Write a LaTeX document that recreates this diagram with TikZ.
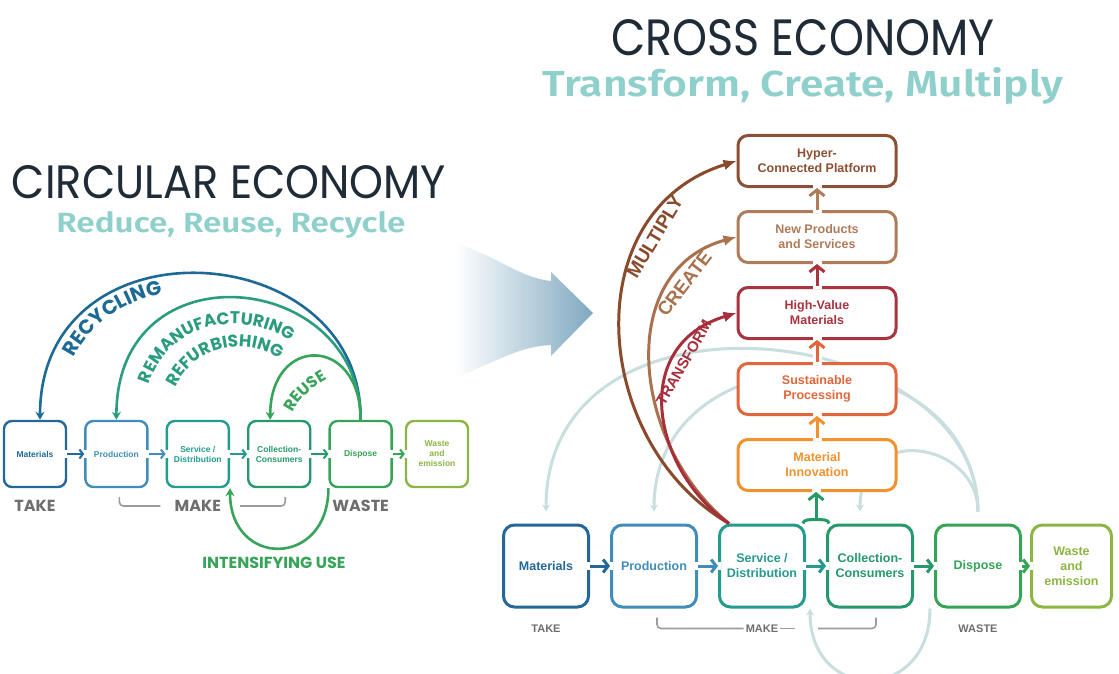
\documentclass[tikz,border=0pt]{standalone}
\usepackage{fontspec}
\usepackage{graphicx}
\setmainfont{Liberation Sans}
\newfontfamily\geofont{Poppins}
\newfontfamily\humfont{Fira Sans SemiBold}
\usetikzlibrary{
  arrows.meta,
  backgrounds,
  calc,
  decorations.text,
  positioning
}
\definecolor{ink}{HTML}{1F2B36}
\definecolor{mint}{HTML}{8FD0CC}
\definecolor{taupe}{HTML}{6E6E6E}
\definecolor{greyline}{HTML}{9C9C9C}
\definecolor{hazy}{HTML}{C9DEDF}
\definecolor{steel}{HTML}{7FA8C0}
\definecolor{cmat}{HTML}{24689A}
\definecolor{cprod}{HTML}{3F8DB8}
\definecolor{cserv}{HTML}{239B8E}
\definecolor{ccoll}{HTML}{25996A}
\definecolor{cdisp}{HTML}{35A457}
\definecolor{cwaste}{HTML}{8DB544}
\definecolor{crecyc}{HTML}{1D6A96}
\definecolor{creman}{HTML}{2A9C80}
\definecolor{creuse}{HTML}{38A45A}
\definecolor{chyper}{HTML}{8D5035}
\definecolor{cnewp}{HTML}{B07B58}
\definecolor{chval}{HTML}{A7343F}
\definecolor{csust}{HTML}{E1663C}
\definecolor{cinno}{HTML}{F0922E}
\definecolor{cmult}{HTML}{8A4A2C}
\definecolor{ccreate}{HTML}{A9714D}
\definecolor{ctrans}{HTML}{A82E3C}
\newcommand{\arcbig}{\geofont\bfseries\fontsize{20}{20}\selectfont}
\newcommand{\arcmid}{\geofont\bfseries\fontsize{17}{17}\selectfont}
\newcommand{\arcsmall}{\geofont\bfseries\fontsize{16}{16}\selectfont}
\tikzset{
  heading/.style={
    inner sep=0pt,
    text=ink,
    font=\geofont
  },
  motto/.style={
    inner sep=0pt,
    text=mint,
    font=\humfont
  },
  stage/.style={
    draw=#1,
    text=#1,
    fill=white,
    line width=2.4pt,
    rounded corners=8pt,
    minimum width=62pt,
    minimum height=66pt,
    inner sep=1pt,
    align=center,
    font=\fontsize{8.5}{10}\selectfont\bfseries
  },
  bigstage/.style={
    draw=#1,
    text=#1,
    fill=white,
    line width=3pt,
    rounded corners=11pt,
    minimum width=85pt,
    minimum height=82pt,
    inner sep=1pt,
    align=center,
    font=\fontsize{12.5}{15}\selectfont\bfseries
  },
  level/.style={
    draw=#1,
    text=#1,
    fill=white,
    line width=3pt,
    rounded corners=10pt,
    minimum width=158pt,
    minimum height=51pt,
    align=center,
    font=\fontsize{12.5}{15}\selectfont\bfseries
  },
  hop/.style={
    draw=#1,
    line width=2pt,
    -{Straight Barb[length=3.5pt, width=9pt]},
    preaction={draw=white, -, line width=8pt,
      shorten <=-3pt, shorten >=-3pt}
  },
  bighop/.style={
    hop=#1,
    line width=3pt,
    -{Straight Barb[length=5pt, width=13pt]}
  },
  lift/.style={
    draw=#1,
    line width=3pt,
    -{Straight Barb[length=6pt, width=15pt]},
    preaction={draw=white, -, line width=9pt,
      shorten <=-3pt, shorten >=-3pt}
  },
  fork/.style={
    draw=#1,
    line width=3pt
  },
  rise/.style={
    draw=#1,
    line width=3pt,
    -{Latex[length=13pt, width=11pt]}
  },
  backflow/.style={
    draw=#1,
    line width=2.6pt,
    -{Stealth[length=8pt, width=9pt]}
  },
  haze/.style={
    draw=hazy,
    line width=3pt,
    -{Stealth[length=7pt, width=8pt]}
  },
  phase/.style={
    text=taupe,
    inner sep=2pt,
    font=\geofont\bfseries\fontsize{16}{16}\selectfont
  },
  tag/.style={
    text=taupe,
    inner sep=2pt,
    font=\fontsize{11}{11}\selectfont\bfseries
  },
  brace/.style={
    draw=greyline,
    line width=1.6pt,
    rounded corners=4pt
  },
  upcap/.style={
    text=#1,
    inner sep=1pt,
    font=\fontsize{19}{19}\selectfont\bfseries
  }
}

\begin{document}
\begin{tikzpicture}[x=1pt, y=-1pt, node distance=17pt]
  \useasboundingbox (0,0) rectangle (1119,674);

  % headings
  \node[heading] (circ) at (229,182) {\resizebox{434pt}{33pt}{CIRCULAR ECONOMY}};
  \node[motto, anchor=base] (circsub) at (231,232)
    {\resizebox{349pt}{21pt}{Reduce, Reuse, Recycle}};
  \node[heading] (cross) at (803,38) {\resizebox{383pt}{36pt}{CROSS ECONOMY}};
  \node[motto, anchor=base] (crosssub) at (803,97)
    {\resizebox{520pt}{29pt}{Transform, Create, Multiply}};

  % circular chain
  \node[stage=cmat] (mat) at (35,454) {Materials};
  \node[stage=cprod, right=of mat] (prod) {Production};
  \node[stage=cserv, right=of prod] (serv) {Service /\\Distribution};
  \node[stage=ccoll, right=of serv] (coll) {Collection-\\Consumers};
  \node[stage=cdisp, right=of coll] (disp) {Dispose};
  \node[stage=cwaste, right=12pt of disp] (waste) {Waste\\and\\emission};

  \node[phase, below=10pt of mat] (take) {TAKE};
  \node[phase, below=10pt of serv] (make) {MAKE};
  \node[phase, below=10pt of disp] (wastel) {WASTE};
  \node[text=creuse, font=\geofont\bfseries\fontsize{16}{16}\selectfont]
    (intens) at (274,563) {INTENSIFYING USE};

  % cross chain
  \node[bigstage=cmat] (rmat) at (546,566) {Materials};
  \node[bigstage=cprod, right=20pt of rmat] (rprod) {Production};
  \node[bigstage=cserv, right=20pt of rprod] (rserv) {Service /\\Distribution};
  \node[bigstage=ccoll, right=20pt of rserv] (rcoll) {Collection-\\Consumers};
  \node[bigstage=cdisp, right=20pt of rcoll] (rdisp) {Dispose};
  \node[bigstage=cwaste, right=8pt of rdisp, minimum width=80pt] (rwaste)
    {Waste\\and\\emission};

  \node[tag, below=14pt of rmat] (rtake) {TAKE};
  \node[tag, below=14pt of rserv] (rmake) {MAKE};
  \node[tag, below=14pt of rdisp] (rwastel) {WASTE};

  % value ladder
  \node[level=cinno] (inno) at (817,465) {Material\\Innovation};
  \node[level=csust, above=22pt of inno] (sust) {Sustainable\\Processing};
  \node[level=chval, above=22pt of sust] (hval) {High-Value\\Materials};
  \node[level=cnewp, above=22pt of hval] (newp) {New Products\\and Services};
  \node[level=chyper, above=22pt of newp] (hyper) {Hyper-\\Connected Platform};

  \begin{scope}[on background layer]
    \fill[white] (0,0) rectangle (1119,674);
    \shade[left color=white, right color=steel]
      (455,243) .. controls (495,255) and (520,278) .. (551,281)
      -- (551,272) -- (593,313) -- (551,356) -- (551,345)
      .. controls (520,346) and (495,362) .. (455,378) -- cycle;
    % old loops, faded behind the ladder
    \coordinate (drop) at ([yshift=12pt]rdisp.north);
    \draw[haze] (drop) .. controls +(0,-191) and +(0,-241) .. ([yshift=12pt]rmat.north);
    \draw[haze] (drop) .. controls +(-5,-185) and +(0,-185) .. ([yshift=12pt]rprod.north);
    \draw[haze] (drop) .. controls +(0,-70) and +(0,-90)
      .. ([yshift=12pt, xshift=-10pt]rcoll.north);
    \draw[haze] ([xshift=-4pt]rdisp.south west) .. controls +(0,95) and +(0,95)
      .. ([xshift=4pt]rserv.south east);
  \end{scope}

  \foreach \a/\b/\c in {mat/prod/cmat, prod/serv/cprod, serv/coll/cserv,
                        coll/disp/ccoll, disp/waste/cdisp}
    \draw[hop=\c] (\a) -- (\b);
  \foreach \a/\b/\c in {rmat/rprod/cmat, rprod/rserv/cprod, rserv/rcoll/cserv,
                        rcoll/rdisp/ccoll, rdisp/rwaste/cdisp}
    \draw[bighop=\c] (\a) -- (\b);
  \foreach \a/\b/\c in {inno/sust/cinno, sust/hval/csust,
                        hval/newp/chval, newp/hyper/cnewp}
    \draw[lift=\c] (\a) -- (\b);

  \coordinate (fork) at ($(rserv.north east)!.5!(rcoll.north west)+(0,-4)$);
  \draw[lift=ccoll] (fork) -- (fork |- inno.south);
  \draw[fork=ccoll] ([xshift=-13pt, yshift=-4pt]fork) .. controls +(0,-4) and +(-6,0)
    .. (fork) .. controls +(6,0) and +(0,-4) .. ([xshift=13pt, yshift=-4pt]fork);

  % loops of the circular economy
  \draw[backflow=crecyc] (disp.north) .. controls +(2,-185) and +(0,-205)
    .. ([xshift=5pt]mat.north);
  \draw[backflow=creman] (disp.north) .. controls +(0,-150) and +(0,-175)
    .. (prod.north);
  \draw[backflow=creuse] (disp.north) .. controls +(0,-85) and +(0,-85)
    .. ([xshift=-9pt]coll.north);
  \draw[backflow=creuse] (disp.south west) .. controls +(0,80) and +(0,80)
    .. (serv.south east);

  \path[decorate, decoration={text along path, text color=crecyc,
      text align={left indent=64pt}, text={|\arcbig|RECYCLING}}]
    ([xshift=25pt]mat.north) .. controls +(0,-180) and +(0,-165)
    .. ([xshift=-20pt]disp.north);
  \path[decorate, decoration={text along path, text color=creman,
      text align={left indent=36pt}, text={|\arcmid|REMANUFACTURING}}]
    ([xshift=27pt]prod.north) .. controls +(4,-140) and +(0,-115)
    .. ([xshift=-27pt]disp.north);
  \path[decorate, decoration={text along path, text color=creman,
      text align={left indent=34pt}, text={|\arcmid|REFURBISHING}}]
    ([xshift=50pt]prod.north) .. controls +(12,-105) and +(0,-90)
    .. ([xshift=-50pt]disp.north);
  \path[decorate, decoration={text along path, text color=creuse,
      text align={left indent=1pt}, text={|\arcsmall|REUSE}}]
    ($(coll.north)+(13,-6)$) .. controls +(10,-22) and +(-20,6)
    .. ($(coll.north)+(70,-50)$);

  % MAKE brackets
  \draw[brace] ([xshift=3pt, yshift=-9pt]prod.south) |- ([xshift=-12pt]make.west);
  \draw[brace] ($(serv.south east |- make.east)+(10,0)$)
    -| ([xshift=6pt, yshift=-9pt]coll.south);
  \draw[brace] ([xshift=3pt, yshift=-9pt]rprod.south) |- (rmake.west);
  \draw[brace] (rmake.east) -- ++(15,0);
  \draw[brace] ($(rserv.south east |- rmake.east)+(12,0)$)
    -| ([xshift=6pt, yshift=-9pt]rcoll.south);

  % climbing arrows
  \coordinate (spring) at ([xshift=11pt]rserv.north west);
  \draw[rise=cmult] (spring) .. controls +(-138,-80) and +(-162,50) .. (hyper.west)
    node[upcap=cmult, pos=0.74, sloped, below=2pt] (multl) {MULTIPLY};
  \draw[rise=ccreate] (spring) .. controls +(-98,-80) and +(-122,33) .. (newp.west)
    node[upcap=ccreate, pos=0.78, sloped, below=2pt] (creal) {CREATE};
  \draw[rise=ctrans] (spring) .. controls +(-78,-55) and +(-107,32) .. (hval.west)
    node[upcap=ctrans, pos=0.72, sloped, below=2pt,
      font=\fontsize{15}{15}\selectfont\bfseries] (transl) {TRANSFORM};
\end{tikzpicture}
\end{document}
